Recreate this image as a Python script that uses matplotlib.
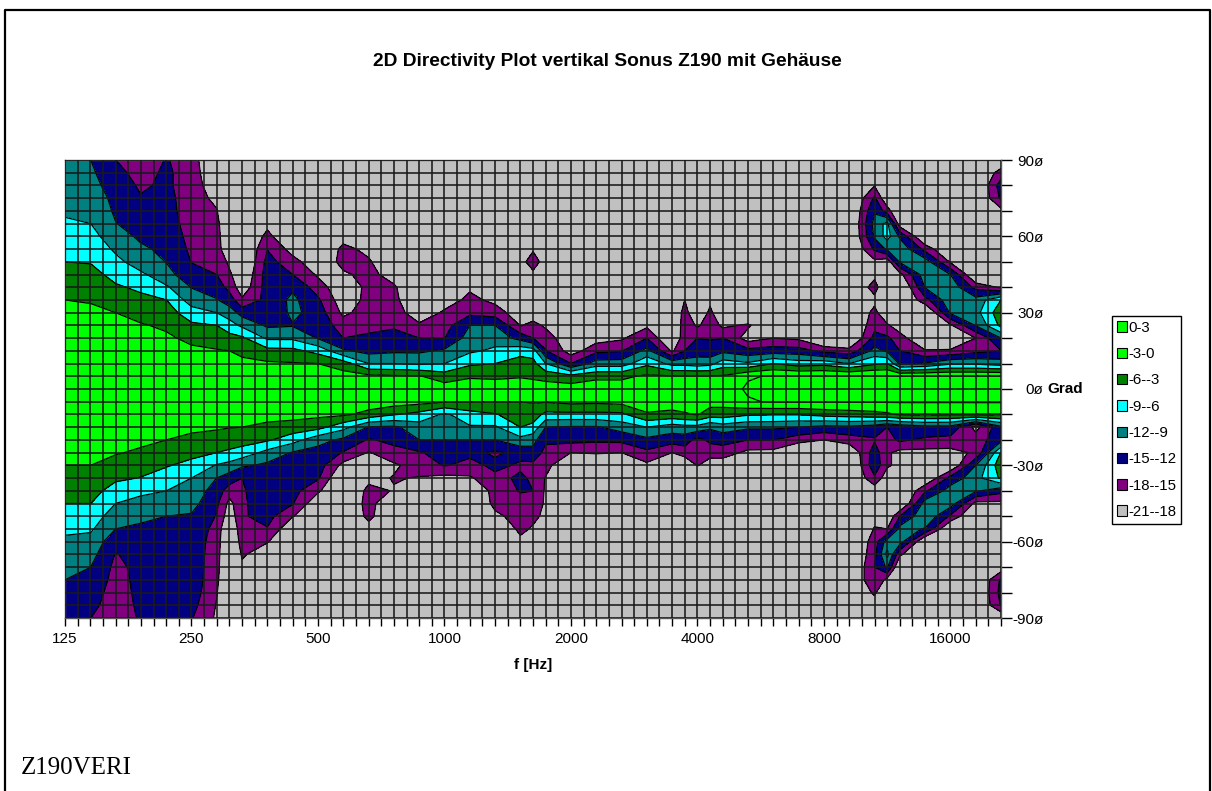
import numpy as np
import matplotlib
matplotlib.use("Agg")
import matplotlib.pyplot as plt
from matplotlib.lines import Line2D
from matplotlib.patches import Patch

plt.rcParams["font.family"] = ["Liberation Sans", "DejaVu Sans"]

W, H = 1212, 791

# measured level in dB, one list per frequency, angles run from +90 down to -90 in 5 deg steps
angles = [90 - 5 * k for k in range(37)]
freqs = [125, 144, 165, 189, 218, 250, 287, 308, 330, 379, 435, 500, 574, 660, 758, 871, 1000,
         1149, 1320, 1516, 1625, 1741, 2000, 2297, 2639, 3031, 3482, 3732, 4000, 4287, 4595, 5278,
         6063, 6964, 8000, 9190, 10556, 11314, 12126, 13929, 16000, 18379, 21112]
levels_db = [
    [-11, -11, -10.5, -10, -9.5, -8.5, -7.5, -7, -6, -5, -4, -3, -2.5, -2, -2, -1, -1, -1, -1, -1, -1, -1.5, -2, -2.5, -3, -4, -5, -6, -7, -8.5, -9.5, -10.5, -11.5, -12, -13, -13.5, -14],
    [-12, -11.5, -11, -10, -9.5, -9, -8, -7, -6.2, -5, -4, -3.2, -2.5, -2, -2, -1.5, -1, -1, -1, -1, -1, -1.5, -2, -2.5, -3, -4, -5, -6, -7.5, -8.6, -10, -11, -12, -13, -14, -14.5, -15],
    [-15, -14.2, -13.5, -13, -12.5, -11.9, -10.8, -9.5, -8.2, -7, -5.6, -4.4, -3, -2.5, -2, -1.5, -1, -1, -1, -1, -1.2, -1.6, -2.2, -2.8, -4, -5.5, -7.2, -9, -10.5, -12, -14, -15.2, -15.8, -16, -16, -16, -16],
    [-17, -16, -15.4, -14.8, -14.5, -13.5, -12.5, -11.5, -10.5, -8.4, -6.6, -5.2, -3.8, -2.8, -2.2, -1.6, -1, -1, -1, -1, -1.2, -1.6, -2.4, -3.4, -4.8, -6.1, -8.3, -10, -11.5, -12.4, -13, -13.5, -14, -14.2, -14.4, -14.6, -14.8],
    [-14.8, -14.5, -14.5, -14.2, -14, -13.5, -13.2, -12.7, -12.1, -11, -8.6, -6, -4.8, -3.4, -2.6, -2, -1.4, -1, -1, -1, -1.2, -1.7, -3, -4.3, -5.8, -7.2, -9, -10.5, -12, -13, -13.3, -13.5, -13.5, -13.5, -13.8, -14, -14.3],
    [-16.5, -16.5, -16.5, -16.5, -16.5, -16.5, -16, -15.6, -15.1, -14, -12.1, -10.5, -7.6, -5.5, -3.6, -2.5, -1.8, -1.2, -1, -1, -1.3, -2.3, -3.8, -5.2, -6.8, -9, -10, -11, -12.3, -13, -13.2, -13.2, -13.2, -13.2, -13.4, -14, -14.8],
    [-22, -21, -20, -18.8, -17.8, -17, -16.5, -16, -15.5, -15, -13.5, -11.8, -9, -6, -4.3, -2.8, -2, -1.4, -1, -1, -1.4, -2.6, -4.4, -6, -9.2, -12, -13.5, -14.4, -15.2, -16, -16.5, -16.8, -17, -17.3, -17.8, -18.2, -18.5],
    [-22] * 8 + [-18.8, -17.4, -16, -13.5, -10.5, -7.8, -4.9, -3, -2.1, -1.4, -1, -1.1, -1.5, -2.9, -4.6, -6.5, -10, -13.5, -16.5, -19, -20] + [-22] * 8,
    [-22] * 9 + [-21, -20, -17.5, -13.2, -9.6, -5.5, -3.6, -2.4, -1.5, -1, -1.2, -1.6, -3, -4.8, -7.2, -11.5, -15, -15.3, -15.4, -15.3, -15.5, -16.5, -17.6, -18.6, -20, -21, -22, -22],
    [-22] * 5 + [-19, -17, -15.1, -14, -13.5, -13.5, -14, -14.8, -12.5, -9.5, -5, -2.6, -1.5, -1, -1.2, -1.8, -3.8, -5.6, -10, -12.6, -13, -13.2, -13.5, -14, -15.2, -17.8, -20] + [-22] * 5,
    [-22] * 7 + [-19.3, -16.8, -15, -12.5, -11.3, -11.2, -12.2, -9.5, -5.2, -2.8, -1.5, -1, -1.2, -2, -4.2, -7.8, -12.2, -13, -13.5, -14, -14.8, -17.8, -21] + [-22] * 7,
    [-22] * 8 + [-20.5, -18.5, -16.5, -14.5, -13.5, -13, -12.2, -7, -3, -1.5, -1, -1.2, -2.3, -5, -11, -13, -13.6, -14.6, -17.5, -20.5] + [-22] * 9,
    [-22] * 6 + [-19.5, -17, -17, -18.5, -20.5, -20, -18.7, -16.5, -15, -11.5, -4.5, -1.8, -1, -1.2, -2.5, -8, -12.6, -15.2, -19] + [-22] * 12,
    [-22] * 7 + [-19, -17.5, -17, -17, -17, -16.5, -15.8, -14.5, -13, -9, -2.2, -1, -1.2, -4, -12.2, -15.3, -18.2, -21, -19, -17, -16.5, -17, -19.5] + [-22] * 7,
    [-22] * 9 + [-19.5, -17.5, -17, -16.5, -15.4, -14, -12.5, -9, -2.6, -1, -1.5, -5.8, -12.5, -14.2, -16, -18.5, -17.8, -18.2] + [-22] * 10,
    [-22] * 12 + [-20, -17.5, -15, -12.5, -9.5, -2.8, -1, -2, -7, -10.4, -12, -15.3, -16.5, -18.2, -21] + [-22] * 10,
    [-22] * 11 + [-19.5, -17.5, -16.2, -15.1, -11.5, -9, -4.5, -1.5, -2.8, -9.5, -10.8, -12, -13.6, -14.8, -19] + [-22] * 11,
    [-22] * 10 + [-18.5, -17.2, -15.8, -12, -10.5, -9.5, -6.5, -3.3, -1.5, -3, -7.2, -9.3, -12, -14.2, -16, -18.4] + [-22] * 11,
    [-22] * 11 + [-18.8, -16.5, -12, -10.3, -8.4, -6, -3.5, -1.5, -3, -6.2, -9.4, -12, -15.5, -14.2, -15.8, -16.5, -17, -18.8] + [-22] * 8,
    [-22] * 7 + [-21, -19.5, -21, -22, -22, -20, -18.2, -13, -7, -4.8, -3.2, -1.5, -3, -4.5, -6, -10, -14, -15.5, -14.5, -14.8, -16, -16.5, -17, -19] + [-22] * 6,
    [-22] * 7 + [-18.5, -16, -19, -22, -22, -20, -17, -15, -7.5, -5, -3.5, -1.5, -2.8, -4.5, -6.8, -11, -13, -15.8, -15.5, -15, -16, -17, -18.5, -20] + [-22] * 6,
    [-22] * 7 + [-21, -20, -21, -22, -22, -20, -18.5, -16.5, -14.8, -9, -4, -1.5, -2.8, -6.8, -12, -14.4, -16, -16.8, -18.2, -18.5, -18.5, -19, -21] + [-22] * 7,
    [-22] * 14 + [-20.5, -19.5, -15, -5, -1.5, -2.2, -6.8, -12.3, -14, -18] + [-22] * 13,
    [-22] * 14 + [-19.5, -15.8, -10.5, -3.6, -1.5, -2.4, -6.8, -12.3, -14.4, -17.7, -21] + [-22] * 12,
    [-22] * 14 + [-18.5, -15.2, -10.5, -3.6, -1.5, -2.1, -6.6, -10.7, -14.2, -18] + [-22] * 13,
    [-22] * 13 + [-18.7, -15, -11, -6.7, -2.5, -1, -1.5, -3.3, -9, -12.7, -15.7, -18.7] + [-22] * 12,
    [-22] * 15 + [-18.5, -10, -2.8, -1, -1.5, -3.8, -10.5, -13.6, -18] + [-22] * 13,
    [-22] * 11 + [-18, -16.5, -16, -15.7, -15, -10, -2.8, -1, -1.5, -3.3, -10, -13.6, -16.5, -21] + [-22] * 12,
    [-22] * 13 + [-18.5, -15, -13.4, -10.5, -2.8, -1, -1.3, -2.8, -10, -16, -16.5, -17.8] + [-22] * 12,
    [-22] * 11 + [-19, -17, -16.2, -15.2, -14, -10, -2.8, -1, -1.8, -4.5, -11.5, -14.4, -16.5, -20] + [-22] * 12,
    [-22] * 13 + [-18.7, -15, -12.7, -7.5, -2.7, -1, -1.8, -4.5, -10.5, -13.9, -16.5, -20] + [-22] * 12,
    [-22] * 13 + [-17.5, -19.5, -14, -8.5, -0.2, 0.3, -0.2, -5.6, -11.5, -15, -18.8] + [-22] * 13,
    [-22] * 14 + [-18, -13.5, -6, 0.2, 1, 0.2, -5.8, -11.5, -15, -19] + [-22] * 13,
    [-22] * 14 + [-18.6, -13.7, -7.5, 0.2, 1, 0.2, -5.8, -12, -16.8] + [-22] * 14,
    [-22] * 15 + [-16, -7, 0.2, 1, 0.2, -5, -12.8, -18] + [-22] * 14,
    [-22] * 15 + [-17, -9, 0.2, 1, 0.2, -4.5, -12.6, -16.5, -21] + [-22] * 13,
    [-22, -20, -18.2, -14.5, -12.3, -11, -11.5, -14.5, -18.8, -19, -16.5, -19, -17, -16, -14, -11, -6.5, 0.2, 1, 0.2, -4, -13.5, -15.3, -13.5, -13, -15.5, -20, -20, -19, -17.8, -16.5, -16, -15, -15, -17.4, -20, -22],
    [-22, -22, -22, -21, -16.5, -8, -7.8, -11.5, -20, -22, -22, -22, -21, -17.5, -14.5, -12.5, -6, 0.2, 1, 0.2, -3.5, -15, -16, -17.5, -17.5, -20, -22, -22, -21, -18, -10.5, -8, -11.5, -19, -22, -22, -22],
    [-22] * 5 + [-20, -12.5, -9.8, -11.5, -19, -22, -22, -22, -20, -16.5, -15, -12.5, 0, 1, 0.2, -2.7, -14, -14.5, -19, -19, -22, -22, -22, -15, -11, -10.5, -17.5] + [-22] * 5,
    [-22] * 7 + [-16, -10.5, -10, -11.8, -16, -22, -22, -22, -17.7, -11.7, 0.2, 1, 0.2, -2.5, -13, -15.5, -19, -22, -21, -15.5, -10.5, -9.5, -12.2] + [-22] * 7,
    [-22] * 8 + [-18.5, -12, -10, -9.8, -11.5, -18.5, -22, -17.5, -9.5, 0.2, 1, 0.2, -2.7, -13, -16, -19, -21, -14, -10.5, -10.5, -15.5] + [-22] * 8,
    [-22] * 10 + [-16, -10.8, -10, -11.8, -18, -16, -9.5, 0.2, 1, 0.2, -2.5, -19, -16.5, -17.5, -12, -10, -11.5, -19] + [-22] * 9,
    [-21, -16.5, -13.5, -14.5, -19, -22, -22, -22, -22, -21, -18.5, -6, -4, -5.2, -12, -15, -10.5, 0.2, 1, 0.2, -2.5, -12.7, -13, -5.8, -4, -5.5, -14, -18.8, -22, -22, -22, -22, -20, -14.5, -14, -14.8, -21],
]

band_edges = [-40, -18, -15, -12, -9, -6, -3, 0, 3]
band_colors = ["#C0C0C0", "#800080", "#000080", "#008080", "#00FFFF", "#008000", "#00FF00", "#00FF00"]
band_labels = ["0-3", "-3-0", "-6--3", "-9--6", "-12--9", "-15--12", "-18--15", "-21--18"]

freq_labels = [125, 250, 500, 1000, 2000, 4000, 8000, 16000]
angle_ticks = [90, 60, 30, 0, -30, -60, -90]

Z = np.array(levels_db).T

fig = plt.figure(figsize=(W / 100, H / 100), dpi=100)

# page frame is open at the bottom
fig.add_artist(Line2D([5 / W, 5 / W, 1210 / W, 1210 / W], [0, 1 - 9.5 / H, 1 - 9.5 / H, 0],
                      transform=fig.transFigure, color="black", lw=1.6))

ax = fig.add_axes([65 / W, 1 - 618 / H, 936 / W, 458 / H])
ax.set_xscale("log", base=2)
ax.contourf(freqs, angles, Z, levels=band_edges, colors=band_colors)
ax.contour(freqs, angles, Z, levels=band_edges[1:-1], colors="black", linewidths=0.9, linestyles="solid")

ax.set_xlim(125, 125 * 2 ** 7.4)
ax.set_ylim(-90, 90)

grid_f = 125 * 2 ** (np.arange(75) / 10)
for f in grid_f:
    ax.axvline(f, color="#1a1a1a", lw=1.15, zorder=3)
for a in range(-90, 91, 5):
    ax.axhline(a, color="#1a1a1a", lw=1.15, zorder=3)

ax.set_xticks(freq_labels)
ax.set_xticklabels([str(f) for f in freq_labels])
ax.set_xticks(grid_f, minor=True)
ax.xaxis.set_minor_formatter(plt.NullFormatter())
ax.tick_params(axis="x", which="both", length=6, width=1, labelsize=11, pad=4)

ax.yaxis.tick_right()
ax.set_yticks(range(-90, 91, 10))
ax.set_yticklabels([f"{a}ø" if a in angle_ticks else "" for a in range(-90, 91, 10)], ha="right")
ax.tick_params(axis="y", length=8, width=1, labelsize=11, pad=22.5)
for s in ax.spines.values():
    s.set_linewidth(1)
    s.set_color("#555555")

fig.text(607.5 / W, 1 - 62 / H, "2D Directivity Plot vertikal Sonus Z190 mit Gehäuse",
         ha="center", va="center", fontsize=13.8, fontweight="bold")
fig.text(533 / W, 1 - 665 / H, "f [Hz]", ha="center", va="center", fontsize=11, fontweight="bold")
fig.text(1047 / W, 1 - 389 / H, "Grad", ha="left", va="center", fontsize=11, fontweight="bold")
fig.text(21 / W, 1 - 768 / H, "Z190VERI", ha="left", va="center", fontsize=18,
         family=["Liberation Serif", "DejaVu Serif"])

handles = [Patch(facecolor=c, edgecolor="black", linewidth=0.8) for c in band_colors[::-1]]
leg = fig.legend(handles, band_labels, loc="upper left",
                 bbox_to_anchor=(1112 / W, 1 - 316 / H), bbox_transform=fig.transFigure,
                 fontsize=10.8, fancybox=False, edgecolor="black", framealpha=1,
                 handlelength=0.65, handleheight=0.7, handletextpad=0.12,
                 labelspacing=0.82, borderpad=0.32, borderaxespad=0)
leg.get_frame().set_linewidth(1)

fig.savefig("out.png", dpi=100)
